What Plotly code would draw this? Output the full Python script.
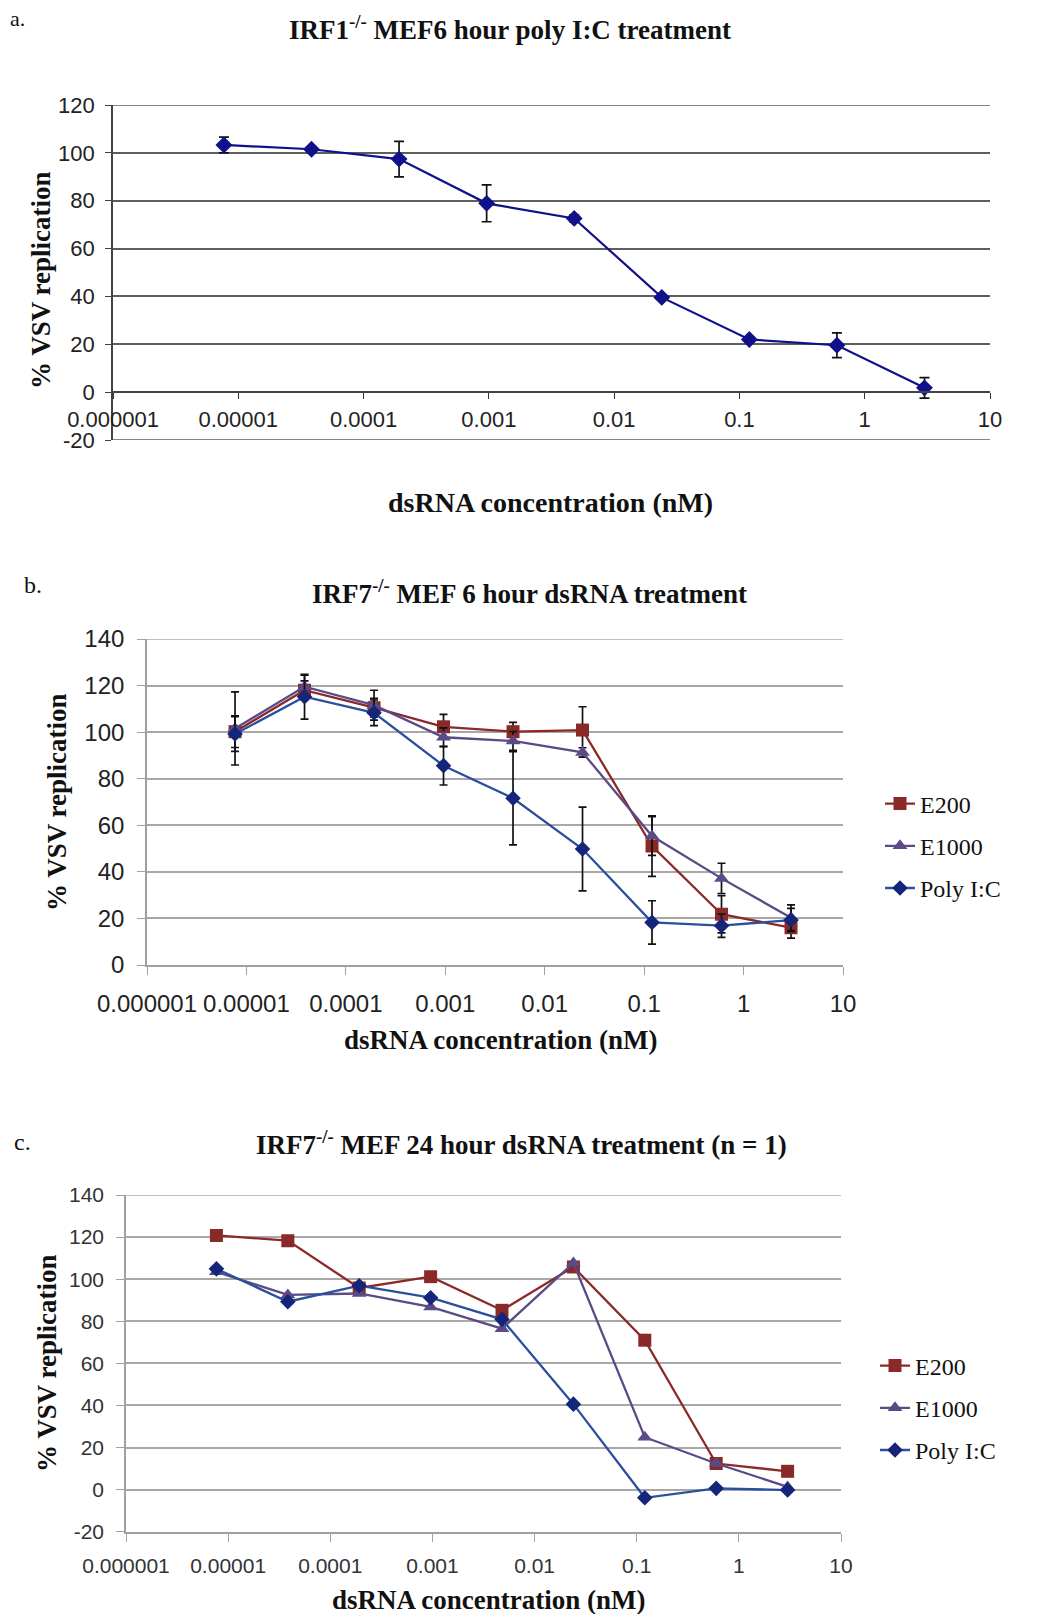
import plotly.graph_objects as go

W, H = 1050, 1614
def px(x): return x / W
def py(y): return 1 - y / H

# ---------------- data ----------------
conc = [7.68e-6, 3.84e-5, 1.92e-4, 9.6e-4, 4.8e-3, 0.024, 0.12, 0.6, 3.0]
tick_vals = [1e-6, 1e-5, 1e-4, 1e-3, 1e-2, 0.1, 1, 10]
tick_text = ["0.000001", "0.00001", "0.0001", "0.001", "0.01", "0.1", "1", "10"]
ya_ticks = [-20, 0, 20, 40, 60, 80, 100, 120]
yb_ticks = [0, 20, 40, 60, 80, 100, 120, 140]
yc_ticks = [-20, 0, 20, 40, 60, 80, 100, 120, 140]

a_polyic = [103.3, 101.5, 97.4, 78.9, 72.6, 39.6, 22.0, 19.6, 1.8]
a_polyic_err = [3.3, 1.0, 7.4, 7.7, 1.5, 0.8, 1.0, 5.2, 4.3]

b_e200 = [100.2, 118.0, 110.5, 102.3, 100.2, 100.9, 51.1, 21.8, 16.0]
b_e200_err = [6.8, 4.0, 4.0, 5.3, 4.0, 10.0, 13.0, 8.0, 4.5]
b_e1000 = [101.6, 119.5, 111.6, 97.8, 96.2, 91.3, 55.4, 37.2, 20.3]
b_e1000_err = [15.7, 5.0, 6.4, 4.0, 4.0, 2.0, 8.3, 6.5, 5.5]
b_polyic = [99.2, 115.2, 108.3, 85.6, 71.6, 49.8, 18.3, 16.9, 19.3]
b_polyic_err = [7.5, 9.6, 5.5, 8.3, 20.0, 18.0, 9.3, 5.0, 5.0]

c_e200 = [120.8, 118.3, 95.8, 101.2, 85.2, 105.8, 71.0, 12.4, 8.7]
c_e1000 = [103.5, 92.5, 93.2, 86.8, 76.5, 107.7, 24.9, 12.4, 1.3]
c_polyic = [104.9, 89.3, 96.9, 91.2, 80.9, 40.6, -3.9, 0.6, -0.2]

series_names = ["E200", "E1000", "Poly I:C"]

# ---------------- styles ----------------
RED = "#8a2a28"
PURPLE = "#5b4a86"
BLUE_LINE = "#2a4f9c"
BLUE_MK = "#15257a"
NAVY = "#10108a"
SANS = "Liberation Sans, Arial, sans-serif"
SERIF = "Liberation Serif, Times New Roman, serif"

fig = go.Figure()

# panel a
fig.add_trace(go.Scatter(
    x=conc, y=a_polyic, xaxis="x", yaxis="y", mode="lines+markers",
    line=dict(color=NAVY, width=2.2), marker=dict(symbol="diamond", size=13, color=NAVY),
    error_y=dict(type="data", array=a_polyic_err, color="#111", thickness=1.7, width=5),
    showlegend=False, name="Poly I:C"))

def add_series(xa, ya, ys, errs, legend, grp):
    styles = [
        dict(color=RED, mk=RED, symbol="square", size=13),
        dict(color=PURPLE, mk=PURPLE, symbol="triangle-up", size=13),
        dict(color=BLUE_LINE, mk=BLUE_MK, symbol="diamond", size=12),
    ]
    for i, (name, y) in enumerate(zip(series_names, ys)):
        st = styles[i]
        kw = {}
        if errs is not None:
            kw["error_y"] = dict(type="data", array=errs[i], color="#111", thickness=1.7, width=4)
        fig.add_trace(go.Scatter(
            x=conc, y=y, xaxis=xa, yaxis=ya, mode="lines+markers", name=name,
            line=dict(color=st["color"], width=2.3),
            marker=dict(symbol=st["symbol"], size=st["size"], color=st["mk"]),
            legend=legend, legendgroup=grp + str(i), **kw))

add_series("x2", "y2", [b_e200, b_e1000, b_polyic],
           [b_e200_err, b_e1000_err, b_polyic_err], "legend2", "b")
add_series("x3", "y3", [c_e200, c_e1000, c_polyic], None, "legend3", "c")

def xaxis(dom, fsize, color, **kw):
    d = dict(type="log", domain=dom, range=[-6, 1], tickvals=tick_vals, ticktext=tick_text,
             ticks="outside", showgrid=False, zeroline=False, showline=True,
             automargin=False, tickangle=0,
             tickfont=dict(family=SANS, size=fsize, color=color))
    d.update(kw)
    return d

def yaxis(dom, rng, tv, fsize, color, grid, **kw):
    d = dict(domain=dom, range=rng, tickvals=tv, ticktext=[str(v) for v in tv],
             ticks="outside", zeroline=False, automargin=False,
             showline=True, showgrid=True, gridcolor=grid, gridwidth=1.6,
             tickfont=dict(family=SANS, size=fsize, color=color))
    d.update(kw)
    return d

GRID_A = "#5e5e5e"
GRID_BC = "#a8a8a8"
layout = dict(
    width=W, height=H, margin=dict(l=0, r=0, t=0, b=0, autoexpand=False),
    paper_bgcolor="white", plot_bgcolor="white", showlegend=True,
    xaxis=xaxis([px(113), px(990)], 22, "#222", anchor="free", position=py(392),
                ticklen=6, tickcolor="#333", linecolor="#444", linewidth=1.6, tickwidth=1.4,
                ticklabelstandoff=2),
    yaxis=yaxis([py(440), py(105)], [-20, 120], ya_ticks, 22, "#222", GRID_A,
                anchor="x", ticklen=6, tickcolor="#444", linecolor="#444", linewidth=1.6,
                ticklabelstandoff=6),
    xaxis2=xaxis([px(147), px(843)], 24, "#222", anchor="y2", ticklen=8,
                 tickcolor="#a0a0a0", linecolor="#a0a0a0", linewidth=1.6, tickwidth=1.4,
                 ticklabelstandoff=8),
    yaxis2=yaxis([py(965), py(639)], [0, 140], yb_ticks, 24, "#222", GRID_BC,
                 anchor="x2", ticklen=8, tickcolor="#a0a0a0", linecolor="#a0a0a0", linewidth=1.6,
                 ticklabelstandoff=8),
    xaxis3=xaxis([px(126), px(841)], 21, "#333", anchor="y3", ticklen=8,
                 tickcolor="#a0a0a0", linecolor="#a0a0a0", linewidth=1.6, tickwidth=1.4,
                 ticklabelstandoff=6),
    yaxis3=yaxis([py(1531.7), py(1195)], [-20, 140], yc_ticks, 21, "#333", GRID_BC,
                 anchor="x3", ticklen=8, tickcolor="#a0a0a0", linecolor="#a0a0a0", linewidth=1.6,
                 ticklabelstandoff=8),
    legend2=dict(x=px(880), y=py(846), xanchor="left", yanchor="middle",
                 font=dict(family=SERIF, size=24, color="#111"), bgcolor="rgba(0,0,0,0)",
                 traceorder="grouped", tracegroupgap=8),
    legend3=dict(x=px(875), y=py(1408), xanchor="left", yanchor="middle",
                 font=dict(family=SERIF, size=24, color="#111"), bgcolor="rgba(0,0,0,0)",
                 traceorder="grouped", tracegroupgap=8),
)

# gridlines on the range edges (plotly skips grid lines that sit on the plot-area edge)
def edge_line(xa, ya, yv, color):
    return dict(type="line", xref=xa + " domain", yref=ya, x0=0, x1=1, y0=yv, y1=yv,
                line=dict(color=color, width=1.6), layer="below")

layout["shapes"] = [
    edge_line("x", "y", ya_ticks[-1], GRID_A),
    edge_line("x", "y", ya_ticks[0], GRID_A),
    edge_line("x2", "y2", yb_ticks[-1], GRID_BC),
    edge_line("x3", "y3", yc_ticks[-1], GRID_BC),
]

def ann(text, x, y, size, bold=False, angle=0, xanchor="center", color="#111"):
    return dict(text=("<b>%s</b>" % text) if bold else text, x=px(x), y=py(y),
                xref="paper", yref="paper", showarrow=False, xanchor=xanchor, yanchor="middle",
                textangle=angle, font=dict(family=SERIF, size=size, color=color))

annotations = [
    ann("a.", 8, 18, 22, xanchor="left"),
    ann("IRF1<sup>-/-</sup> MEF6 hour poly I:C treatment", 510, 28, 27, bold=True),
    ann("% VSV replication", 41, 280, 27, bold=True, angle=-90),
    ann("dsRNA concentration (nM)", 550, 502, 28, bold=True),
    ann("b.", 22, 585, 24, xanchor="left"),
    ann("IRF7<sup>-/-</sup> MEF 6 hour dsRNA treatment", 529, 592, 27, bold=True),
    ann("% VSV replication", 57, 802, 27, bold=True, angle=-90),
    ann("dsRNA concentration (nM)", 500, 1040, 27, bold=True),
    ann("c.", 12, 1142, 24, xanchor="left"),
    ann("IRF7<sup>-/-</sup> MEF 24 hour dsRNA treatment (n = 1)", 521, 1143, 27, bold=True),
    ann("% VSV replication", 47, 1363, 27, bold=True, angle=-90),
    ann("dsRNA concentration (nM)", 488, 1600, 27, bold=True),
]
layout["annotations"] = annotations

fig.update_layout(**layout)
fig.write_html("out.html")
